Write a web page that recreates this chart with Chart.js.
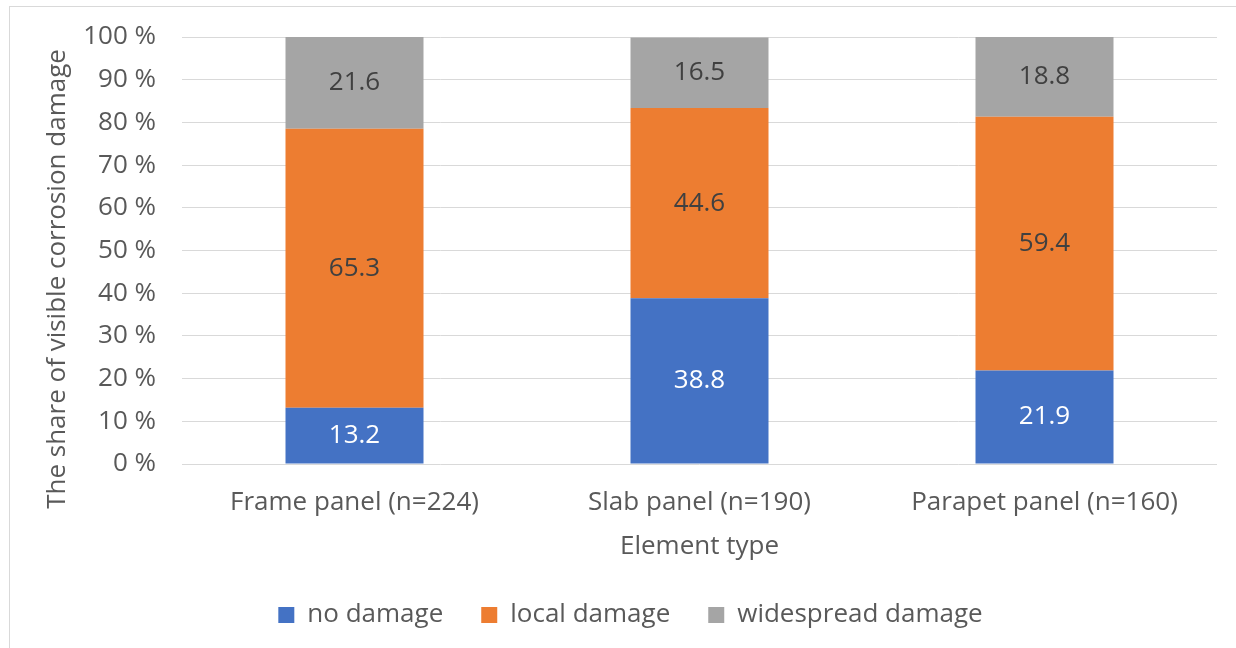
<!DOCTYPE html>
<html>
<head>
<meta charset="utf-8">
<script src="https://cdn.jsdelivr.net/npm/chart.js@4/dist/chart.umd.min.js"></script>
<style>
  html, body { margin: 0; padding: 0; background: #ffffff; }
  #wrap { position: relative; width: 1236px; height: 648px; overflow: hidden; }
  #frame { position: absolute; left: 9px; top: 6px; width: 1300px; height: 700px; border: 1px solid #d9d9d9; box-sizing: border-box; }
  #chart { position: absolute; left: 0; top: 0; }
</style>
</head>
<body>
<div id="wrap">
  <div id="frame"></div>
  <canvas id="chart" width="1236" height="648"></canvas>
</div>
<script>
// Element types and the share (%) of each corrosion-damage class
const categories = ['Frame panel (n=224)', 'Slab panel (n=190)', 'Parapet panel (n=160)'];
const noDamage = [13.2, 38.8, 21.9];
const localDamage = [65.3, 44.6, 59.4];
const widespreadDamage = [21.6, 16.5, 18.8];
const seriesNames = ['no damage', 'local damage', 'widespread damage'];
const yTicks = [0, 10, 20, 30, 40, 50, 60, 70, 80, 90, 100];

const FONT = '"Open Sans", "DejaVu Sans", sans-serif';
const TEXT = '#595959';
const yTitle = 'The share of visible corrosion damage';
const xTitle = 'Element type';

// Writes each segment's value in the middle of its bar
const valueLabels = {
  id: 'valueLabels',
  afterDatasetsDraw(chart) {
    const ctx = chart.ctx;
    ctx.save();
    ctx.font = '26px ' + FONT;
    ctx.textAlign = 'center';
    ctx.textBaseline = 'middle';
    chart.data.datasets.forEach((ds, di) => {
      const meta = chart.getDatasetMeta(di);
      meta.data.forEach((bar, i) => {
        const p = bar.getCenterPoint();
        ctx.fillStyle = ds.labelColor;
        ctx.fillText(ds.data[i].toFixed(1), p.x, p.y);
      });
    });
    ctx.restore();
  }
};

// Vertical axis title, centred on the axis and its labels
const sideTitle = {
  id: 'sideTitle',
  afterDraw(chart) {
    const ctx = chart.ctx;
    ctx.save();
    ctx.font = '26px ' + FONT;
    ctx.fillStyle = TEXT;
    ctx.textAlign = 'center';
    ctx.textBaseline = 'alphabetic';
    ctx.translate(65, 279);
    ctx.rotate(-Math.PI / 2);
    ctx.fillText(yTitle, 0, 0);
    ctx.restore();
  }
};

new Chart(document.getElementById('chart'), {
  type: 'bar',
  data: {
    labels: categories,
    datasets: [
      { label: seriesNames[0], data: noDamage, backgroundColor: '#4472C4', labelColor: '#ffffff' },
      { label: seriesNames[1], data: localDamage, backgroundColor: '#ED7D31', labelColor: '#404040' },
      { label: seriesNames[2], data: widespreadDamage, backgroundColor: '#A5A5A5', labelColor: '#404040' }
    ]
  },
  options: {
    responsive: false,
    animation: false,
    datasets: { bar: { categoryPercentage: 1.0, barPercentage: 0.4, borderWidth: 0 } },
    layout: { padding: { left: 44, right: 19, top: 37, bottom: 10 } },
    plugins: {
      tooltip: { enabled: false },
      legend: {
        position: 'bottom',
        labels: {
          font: { family: FONT, size: 26 },
          color: TEXT,
          boxWidth: 16,
          boxHeight: 16,
          padding: 38
        }
      }
    },
    scales: {
      x: {
        stacked: true,
        grid: { display: false },
        border: { display: false },
        ticks: { font: { family: FONT, size: 26 }, color: TEXT, padding: 15, maxRotation: 0 },
        title: { display: true, text: xTitle, font: { family: FONT, size: 26 }, color: TEXT, padding: { top: 0, bottom: 2 } },
        afterFit(scale) { scale.height = 100; }
      },
      y: {
        stacked: true,
        min: 0,
        max: 100,
        afterBuildTicks(scale) { scale.ticks = yTicks.map(v => ({ value: v })); },
        grid: { color: '#d9d9d9', lineWidth: 1, drawTicks: false },
        border: { display: false },
        ticks: {
          font: { family: FONT, size: 26 },
          color: TEXT,
          padding: 26,
          callback: v => v + ' %'
        },
        afterFit(scale) {
          scale.width = 138;
          scale.paddingTop = 0;
          scale.paddingBottom = 0;
        }
      }
    }
  },
  plugins: [valueLabels, sideTitle]
});
</script>
</body>
</html>
